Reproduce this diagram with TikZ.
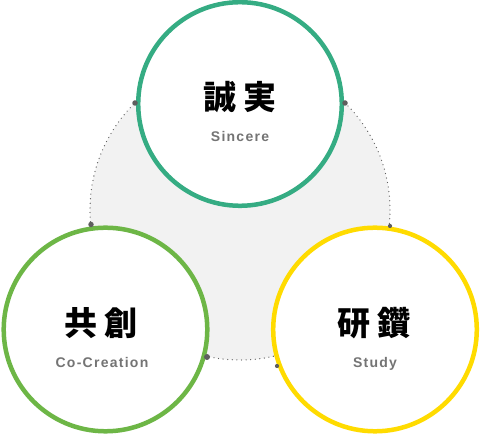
\documentclass[tikz,border=0pt]{standalone}
\usepackage{fontspec}
\setmainfont{Liberation Sans}
\newfontfamily\cjk{Noto Sans CJK JP}
\newfontfamily\lat{Liberation Sans}[LetterSpace=9]
\definecolor{ringT}{HTML}{35AC83}
\definecolor{ringL}{HTML}{6DB646}
\definecolor{ringR}{HTML}{FFDB00}
\definecolor{bgfill}{HTML}{F2F2F2}
\definecolor{dotgray}{HTML}{5E5E5E}
\definecolor{engray}{HTML}{747474}
\begin{document}
\begin{tikzpicture}[x=1pt,y=-1pt,
  ring/.style={circle, draw, line width=4.5pt, fill=white, minimum size=203.6pt, inner sep=0pt, outer sep=0pt},
  dotmark/.style={circle, fill=dotgray, inner sep=0pt, minimum size=#1},
  dotmark/.default=5.5pt,
  dotline/.style={draw=dotgray, line width=1.3pt, line cap=round, dash pattern=on 0pt off 4.6pt},
  cjkt/.style={font=\cjk\bfseries\fontsize{33}{33}\selectfont, anchor=base, inner sep=0pt},
  ent/.style={font=\lat\bfseries\fontsize{14}{14}\selectfont, text=engray, anchor=base, inner sep=0pt}]
\useasboundingbox (0,0) rectangle (480,435);
\coordinate (g) at (240,210);
\fill[bgfill] (g) circle[radius=150pt];
\path[dotline] (g) circle[radius=150pt];
\node[ring, draw=ringT] (top) at (240,104) {};
\node[ring, draw=ringL] (left) at (105.5,329.5) {};
\node[ring, draw=ringR] (right) at (375,329.5) {};
\node[dotmark] (d1) at (135,103) {};
\node[dotmark] (d2) at (345,103) {};
\node[dotmark] (d3) at (91,224.5) {};
\node[dotmark=4.2pt] (d4) at (390,226) {};
\node[dotmark=6pt] (d5) at (207,357) {};
\node[dotmark=4.2pt] (d6) at (277,366) {};
\node[cjkt] (t1) at (240,110) {誠\hspace{7pt}実};
\node[ent] (e1) at (240,142) {Sincere};
\node[cjkt] (t2) at (101,336) {共\hspace{7pt}創};
\node[ent] (e2) at (102,367.5) {Co-Creation};
\node[cjkt] (t3) at (374,336) {研\hspace{7pt}鑽};
\node[ent] (e3) at (375,367.5) {Study};
\end{tikzpicture}
\end{document}
